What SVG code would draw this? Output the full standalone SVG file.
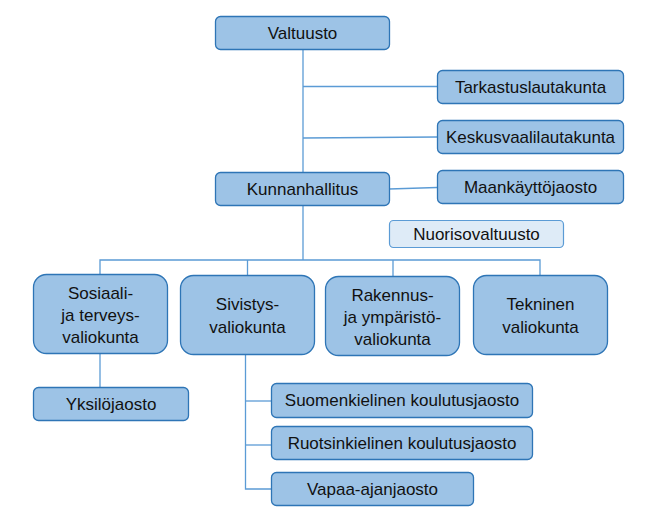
<svg xmlns="http://www.w3.org/2000/svg" width="657" height="520" viewBox="0 0 657 520">
<style>
.b{fill:#9DC3E6;stroke:#2E75B6;stroke-width:1.3}
.n{fill:#DEEBF7;stroke:#5B9BD5;stroke-width:1.2}
.t{font-family:"Liberation Sans",Arial,sans-serif;font-size:17px;fill:#111;text-anchor:middle}
.c{stroke:#5B9BD5;stroke-width:1.3;fill:none}
</style>
<rect width="657" height="520" fill="#fff"/>
<g id="connectors">
<line class="c" x1="303" y1="49" x2="303" y2="172"/>
<line class="c" x1="303" y1="86.5" x2="437" y2="86.5"/>
<line class="c" x1="303" y1="138" x2="437" y2="137"/>
<line class="c" x1="389" y1="189" x2="437" y2="187.5"/>
<line class="c" x1="303" y1="205" x2="303" y2="260"/>
<polyline class="c" points="100,274 100,260 540,260 540,275"/>
<line class="c" x1="247.5" y1="260" x2="247.5" y2="275"/>
<line class="c" x1="393" y1="260" x2="393" y2="276"/>
<line class="c" x1="100" y1="353" x2="100" y2="387"/>
<polyline class="c" points="245.5,354 245.5,489 271,489"/>
<line class="c" x1="245.5" y1="401" x2="271" y2="401"/>
<line class="c" x1="245.5" y1="445" x2="271" y2="445"/>
</g>
<g id="valtuusto"><rect class="b" x="215.5" y="16.5" width="174" height="33" rx="5"/><text class="t" x="302.5" y="38.5">Valtuusto</text></g>
<g id="tarkastuslautakunta"><rect class="b" x="437.5" y="70.5" width="186" height="33" rx="5"/><text class="t" x="530.5" y="92.5">Tarkastuslautakunta</text></g>
<g id="keskusvaalilautakunta"><rect class="b" x="437.5" y="120.5" width="186" height="33" rx="5"/><text class="t" x="530.5" y="142.5">Keskusvaalilautakunta</text></g>
<g id="kunnanhallitus"><rect class="b" x="215.5" y="172.5" width="174" height="33" rx="5"/><text class="t" x="302.5" y="194.5">Kunnanhallitus</text></g>
<g id="maankayttojaosto"><rect class="b" x="437.5" y="170.5" width="186" height="33" rx="5"/><text class="t" x="530.5" y="192.5">Maankäyttöjaosto</text></g>
<g id="nuorisovaltuusto"><rect class="n" x="389.5" y="220.5" width="174" height="27" rx="4"/><text class="t" x="476.5" y="239.5">Nuorisovaltuusto</text></g>
<g id="sosiaali"><rect class="b" x="33.5" y="274.5" width="134" height="79" rx="13"/><text class="t" x="100.5" y="298.5">Sosiaali-</text><text class="t" x="100.5" y="321">ja terveys-</text><text class="t" x="100.5" y="343">valiokunta</text></g>
<g id="sivistys"><rect class="b" x="180.5" y="275.5" width="134" height="79" rx="13"/><text class="t" x="247.5" y="310">Sivistys-</text><text class="t" x="247.5" y="332.5">valiokunta</text></g>
<g id="rakennus"><rect class="b" x="325.5" y="276.5" width="134" height="79" rx="13"/><text class="t" x="392.5" y="300.5">Rakennus-</text><text class="t" x="392.5" y="322.5">ja ympäristö-</text><text class="t" x="392.5" y="345">valiokunta</text></g>
<g id="tekninen"><rect class="b" x="473.5" y="275.5" width="134" height="79" rx="13"/><text class="t" x="540.5" y="310">Tekninen</text><text class="t" x="540.5" y="332.5">valiokunta</text></g>
<g id="yksilojaosto"><rect class="b" x="33.5" y="387.5" width="155" height="33" rx="5"/><text class="t" x="111" y="409.5">Yksilöjaosto</text></g>
<g id="suomenkielinen"><rect class="b" x="271.5" y="383.5" width="261" height="34" rx="5"/><text class="t" x="402" y="406">Suomenkielinen koulutusjaosto</text></g>
<g id="ruotsinkielinen"><rect class="b" x="271.5" y="426.5" width="261" height="33" rx="5"/><text class="t" x="402" y="448.5">Ruotsinkielinen koulutusjaosto</text></g>
<g id="vapaa-ajanjaosto"><rect class="b" x="271.5" y="472.5" width="202" height="33" rx="5"/><text class="t" x="372.5" y="494.5">Vapaa-ajanjaosto</text></g>
</svg>
